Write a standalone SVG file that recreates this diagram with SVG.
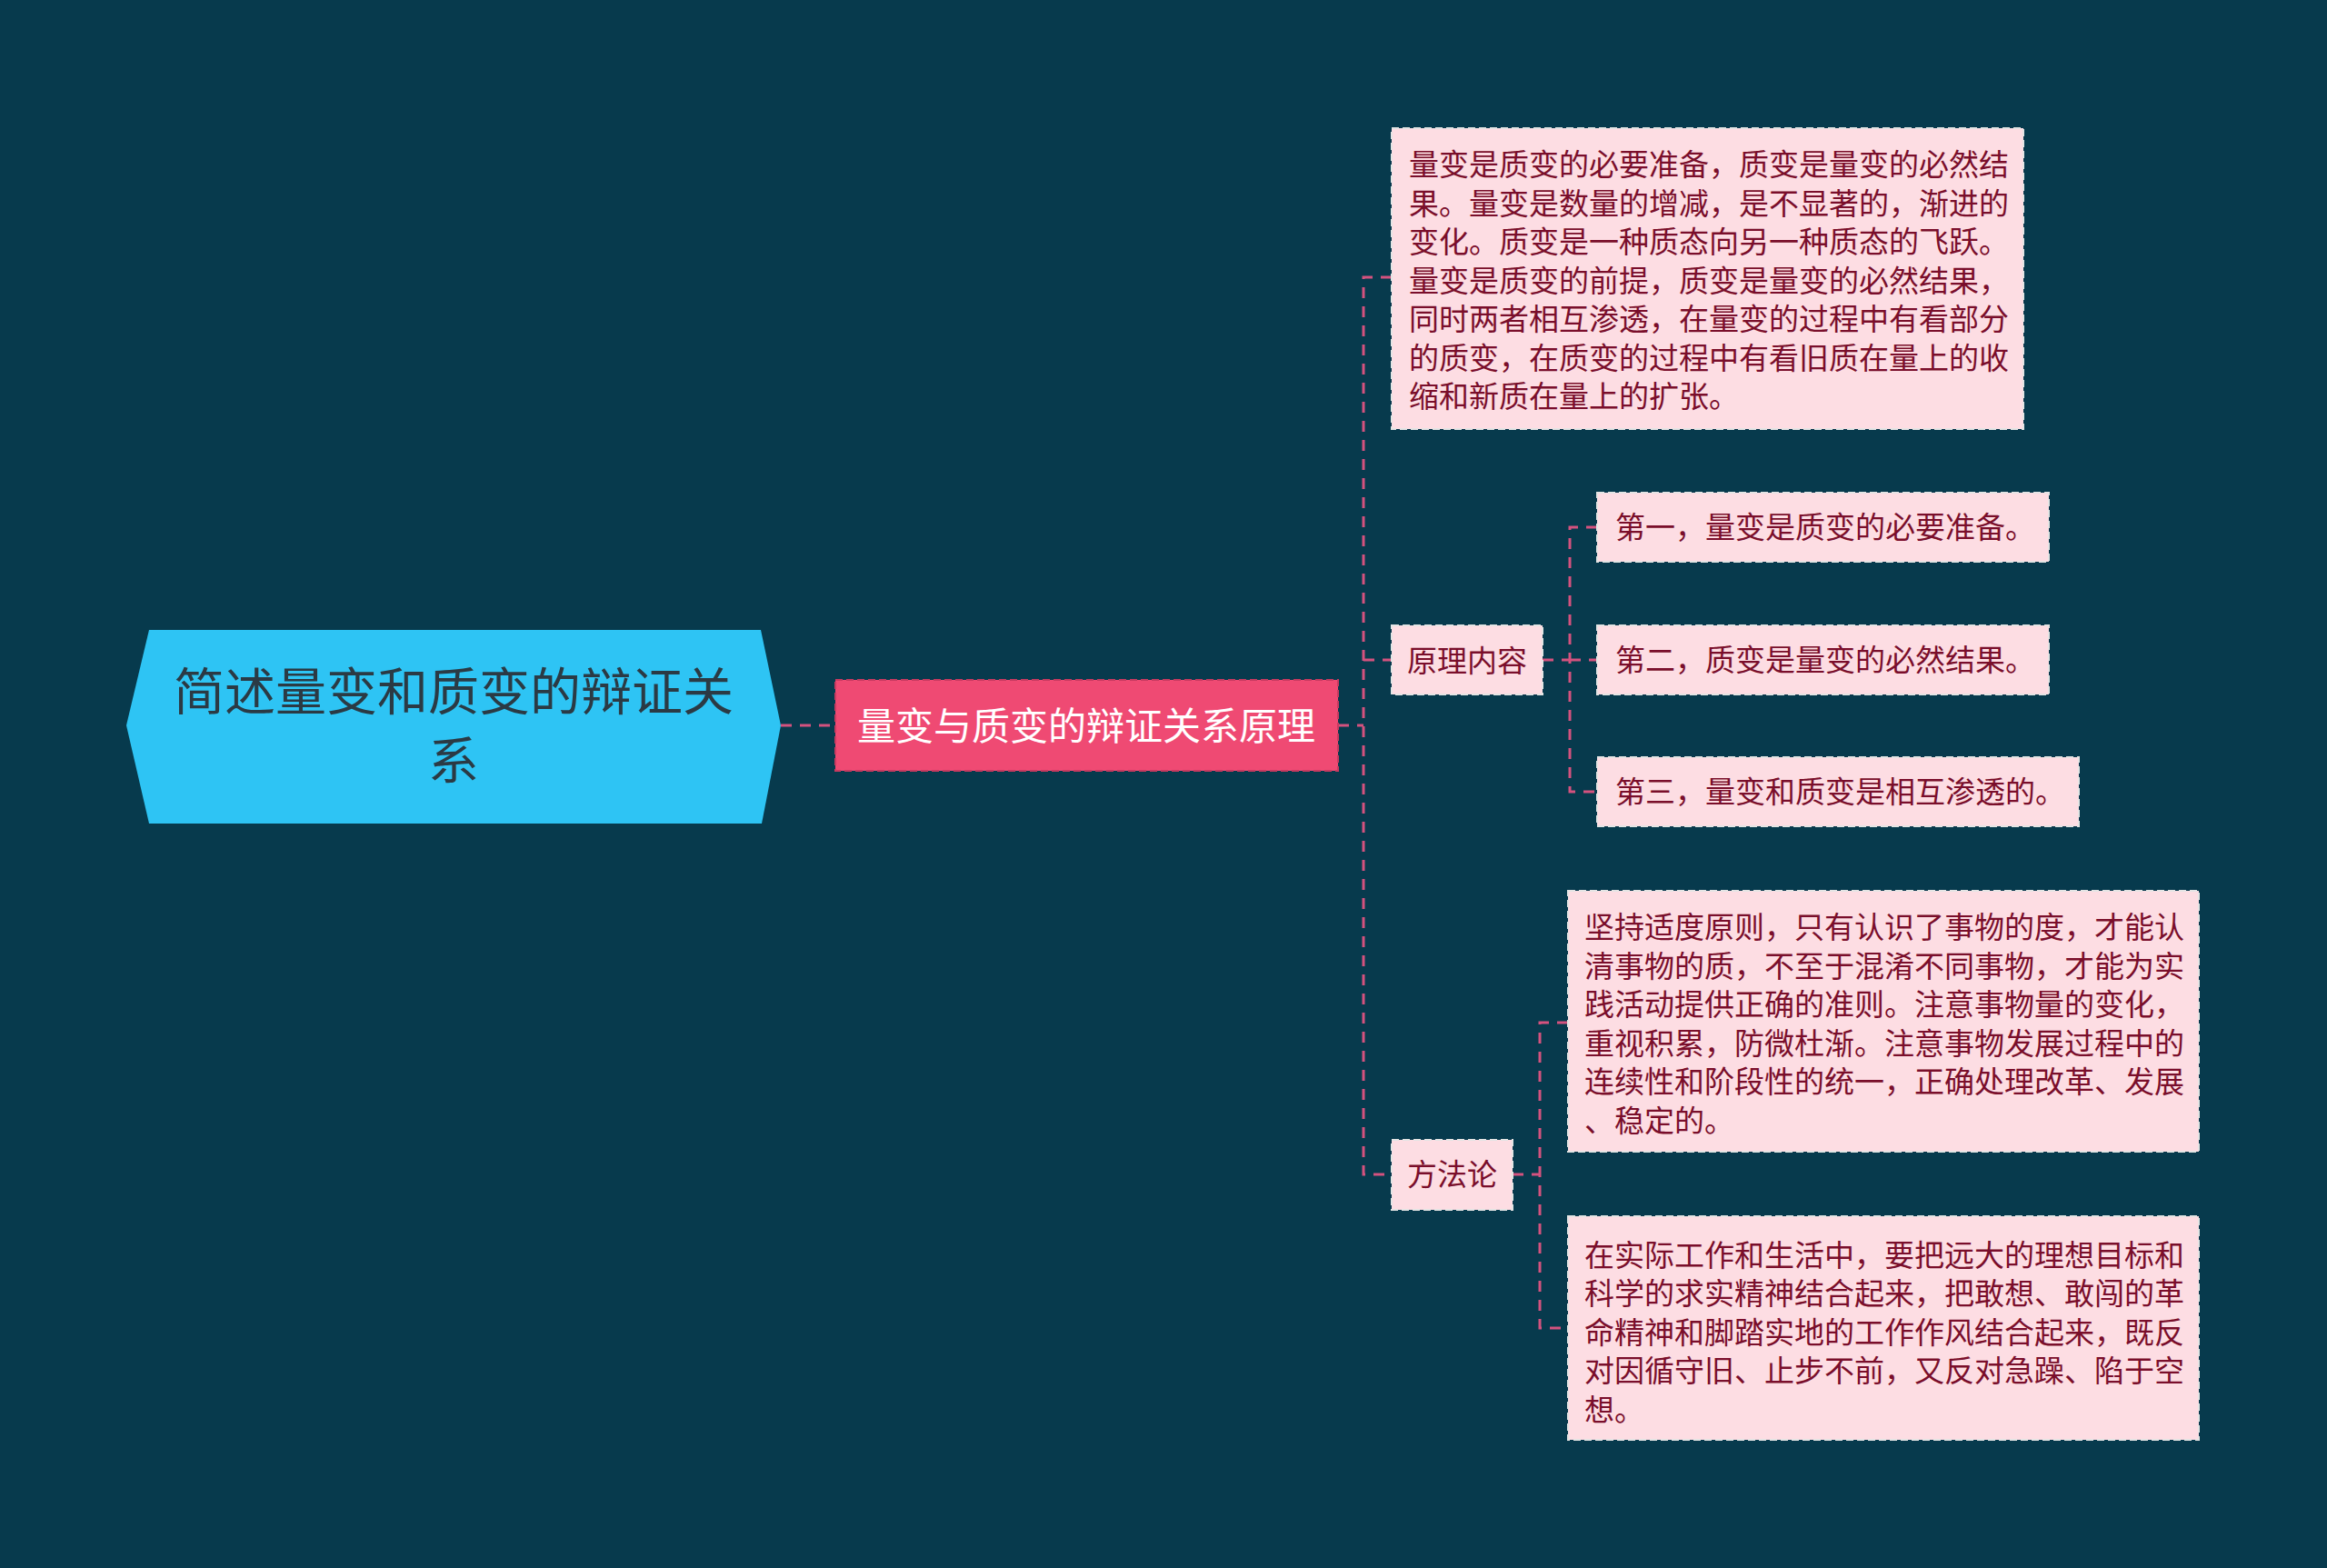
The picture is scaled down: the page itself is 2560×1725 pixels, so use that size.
<svg xmlns="http://www.w3.org/2000/svg" width="2560" height="1725" viewBox="0 0 2560 1725">
<style>
.bg{fill:#073A4D}
.conn{fill:none;stroke:#D4527F;stroke-width:3;stroke-dasharray:12 9}
.leaf{fill:#FDDDE3;stroke:#E4E4E4;stroke-width:2;stroke-dasharray:8 4}
.lt{font-family:"Noto Sans CJK SC","Noto Sans",sans-serif;font-size:33px;fill:#7A0E2B}
.ctr{text-anchor:middle}
</style>
<rect class="bg" x="0" y="0" width="2560" height="1725"/>
<g id="connectors">
<path class="conn" d="M859 798 H919"/>
<path class="conn" d="M1472 798 H1500"/>
<path class="conn" d="M1531 305 H1500 V1292 H1531"/>
<path class="conn" d="M1500 726 H1531"/>
<path class="conn" d="M1697 726 H1727"/>
<path class="conn" d="M1757 580 H1727 V871 H1757"/>
<path class="conn" d="M1727 726 H1757"/>
<path class="conn" d="M1664 1292 H1694"/>
<path class="conn" d="M1725 1125 H1694 V1461 H1725"/>
</g>
<g id="root">
<polygon points="164,693 837,693 859,798 838,906 164,906 139,798" fill="#2EC4F4"/>
<text x="499" y="781" text-anchor="middle" font-family="Noto Sans CJK SC,Noto Sans,sans-serif" font-size="56" fill="#2B3A44">简述量变和质变的辩证关</text>
<text x="499" y="857" text-anchor="middle" font-family="Noto Sans CJK SC,Noto Sans,sans-serif" font-size="56" fill="#2B3A44">系</text>
</g>
<g id="main">
<rect x="919" y="748" width="553" height="100" fill="#EF4A73" stroke="#C83A60" stroke-width="2" stroke-dasharray="8 4"/>
<text x="1195" y="814" text-anchor="middle" font-family="Noto Sans CJK SC,Noto Sans,sans-serif" font-size="42" fill="#FFFFFF">量变与质变的辩证关系原理</text>
</g>
<g id="summary">
<rect class="leaf" x="1531" y="141" width="695" height="331"/>
<text class="lt" x="1550" y="193">量变是质变的必要准备，质变是量变的必然结</text>
<text class="lt" x="1550" y="235.5">果。量变是数量的增减，是不显著的，渐进的</text>
<text class="lt" x="1550" y="278">变化。质变是一种质态向另一种质态的飞跃。</text>
<text class="lt" x="1550" y="320.5">量变是质变的前提，质变是量变的必然结果，</text>
<text class="lt" x="1550" y="363">同时两者相互渗透，在量变的过程中有看部分</text>
<text class="lt" x="1550" y="405.5">的质变，在质变的过程中有看旧质在量上的收</text>
<text class="lt" x="1550" y="448">缩和新质在量上的扩张。</text>
</g>
<g id="principle">
<rect class="leaf" x="1531" y="688" width="166" height="76"/>
<text class="lt ctr" x="1614" y="739">原理内容</text>
</g>
<g id="p1">
<rect class="leaf" x="1757" y="542" width="497" height="76"/>
<text class="lt" x="1777" y="592">第一，量变是质变的必要准备。</text>
</g>
<g id="p2">
<rect class="leaf" x="1757" y="688" width="497" height="76"/>
<text class="lt" x="1777" y="738">第二，质变是量变的必然结果。</text>
</g>
<g id="p3">
<rect class="leaf" x="1757" y="833" width="530" height="76"/>
<text class="lt" x="1777" y="883">第三，量变和质变是相互渗透的。</text>
</g>
<g id="method">
<rect class="leaf" x="1531" y="1254" width="133" height="77"/>
<text class="lt ctr" x="1597.5" y="1304">方法论</text>
</g>
<g id="m1">
<rect class="leaf" x="1725" y="980" width="694" height="287"/>
<text class="lt" x="1743" y="1032">坚持适度原则，只有认识了事物的度，才能认</text>
<text class="lt" x="1743" y="1074.5">清事物的质，不至于混淆不同事物，才能为实</text>
<text class="lt" x="1743" y="1117">践活动提供正确的准则。注意事物量的变化，</text>
<text class="lt" x="1743" y="1159.5">重视积累，防微杜渐。注意事物发展过程中的</text>
<text class="lt" x="1743" y="1202">连续性和阶段性的统一，正确处理改革、发展</text>
<text class="lt" x="1743" y="1244.5">、稳定的。</text>
</g>
<g id="m2">
<rect class="leaf" x="1725" y="1338" width="694" height="246"/>
<text class="lt" x="1743" y="1392.5">在实际工作和生活中，要把远大的理想目标和</text>
<text class="lt" x="1743" y="1435">科学的求实精神结合起来，把敢想、敢闯的革</text>
<text class="lt" x="1743" y="1477.5">命精神和脚踏实地的工作作风结合起来，既反</text>
<text class="lt" x="1743" y="1520">对因循守旧、止步不前，又反对急躁、陷于空</text>
<text class="lt" x="1743" y="1562.5">想。</text>
</g>
</svg>
